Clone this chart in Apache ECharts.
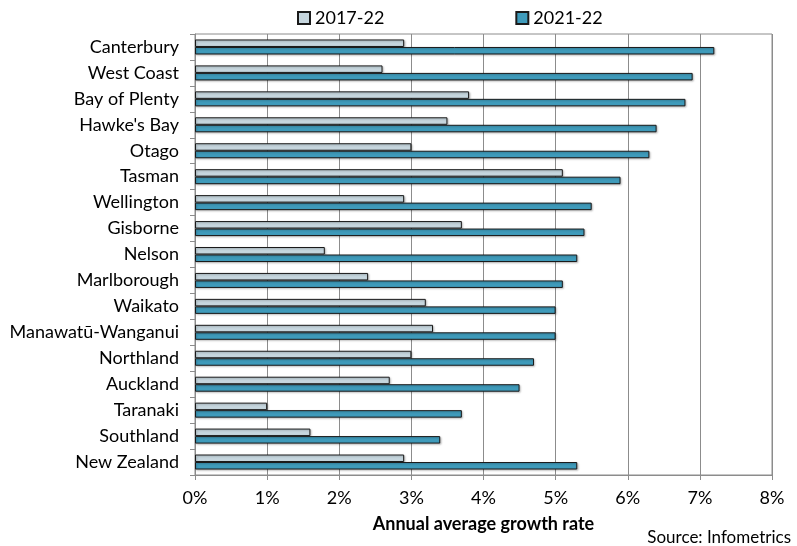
<!DOCTYPE html>
<html>
<head>
<meta charset="utf-8">
<script src="https://cdn.jsdelivr.net/npm/echarts@6/dist/echarts.min.js"></script>
<style>
  html, body { margin: 0; padding: 0; background: #fff; }
  #chart { width: 797px; height: 546px; }
</style>
</head>
<body>
<div id="chart"></div>
<script>
// Regions, top to bottom
const regions = [
  'Canterbury', 'West Coast', 'Bay of Plenty', "Hawke's Bay", 'Otago', 'Tasman',
  'Wellington', 'Gisborne', 'Nelson', 'Marlborough', 'Waikato', 'Manawatū-Wanganui',
  'Northland', 'Auckland', 'Taranaki', 'Southland', 'New Zealand'
];
// Annual average growth rate, %
const growth2017_22 = [2.9, 2.6, 3.8, 3.5, 3.0, 5.1, 2.9, 3.7, 1.8, 2.4, 3.2, 3.3, 3.0, 2.7, 1.0, 1.6, 2.9];
const growth2021_22 = [7.2, 6.9, 6.8, 6.4, 6.3, 5.9, 5.5, 5.4, 5.3, 5.1, 5.0, 5.0, 4.7, 4.5, 3.7, 3.4, 5.3];
const xTicks = [0, 1, 2, 3, 4, 5, 6, 7, 8];

const FONT = 'Lato, "Open Sans", sans-serif';
const chart = echarts.init(document.getElementById('chart'), null, { renderer: 'canvas' });

const barStyle = {
  borderColor: '#1a1a1a',
  borderWidth: 1,
  shadowColor: 'rgba(0,0,0,0.25)',
  shadowBlur: 2,
  shadowOffsetX: 1,
  shadowOffsetY: 1
};

chart.setOption({
  backgroundColor: '#ffffff',
  animation: false,
  textStyle: { fontFamily: FONT },
  legend: {
    top: 4,
    left: 292,
    itemGap: 131,
    itemWidth: 12,
    itemHeight: 12,
    icon: 'rect',
    textStyle: { fontFamily: FONT, fontSize: 18, color: '#000' },
    data: ['2017-22', '2021-22']
  },
  grid: {
    left: 195, right: 25, top: 34, bottom: 71,
    show: true, borderColor: '#8c8c8c', borderWidth: 1
  },
  xAxis: {
    type: 'value',
    min: xTicks[0],
    max: xTicks[xTicks.length - 1],
    interval: 1,
    axisLine: { show: true, lineStyle: { color: '#8c8c8c' } },
    axisTick: { show: true, length: 5, lineStyle: { color: '#8c8c8c' } },
    splitLine: { show: true, lineStyle: { color: '#8c8c8c', width: 1 } },
    axisLabel: {
      fontFamily: FONT, fontSize: 18, color: '#000', margin: 14,
      formatter: v => v + '%'
    },
    name: 'Annual average growth rate',
    nameLocation: 'middle',
    nameGap: 40,
    nameTextStyle: { fontFamily: FONT, fontSize: 18, fontWeight: 'bold', color: '#000' }
  },
  yAxis: {
    type: 'category',
    inverse: true,
    data: regions,
    axisLine: { show: true, lineStyle: { color: '#8c8c8c' } },
    axisTick: { show: true, length: 5, inside: false, lineStyle: { color: '#8c8c8c' } },
    axisLabel: { fontFamily: FONT, fontSize: 18, color: '#000', margin: 16 }
  },
  series: [
    {
      name: '2017-22',
      type: 'bar',
      data: growth2017_22,
      barWidth: 7.5,
      barGap: '0%',
      itemStyle: Object.assign({ color: '#c6d6de' }, barStyle)
    },
    {
      name: '2021-22',
      type: 'bar',
      data: growth2021_22,
      barWidth: 7.5,
      barGap: '0%',
      itemStyle: Object.assign({ color: '#3f9bbb' }, barStyle)
    }
  ],
  graphic: [
    {
      type: 'text',
      right: 6,
      top: 529,
      style: { text: 'Source: Infometrics', font: '17px ' + FONT, fill: '#000' }
    }
  ]
});
</script>
</body>
</html>
